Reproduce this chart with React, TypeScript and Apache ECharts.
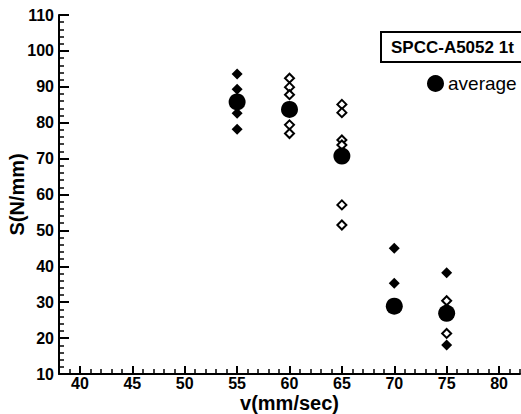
import React, { useEffect, useRef } from "react";
import * as echarts from "echarts";

// Individual measurements (filled diamonds)
const filledSpeed = [55, 55, 55, 55, 70, 70, 75, 75];
const filledS = [93.6, 89.3, 82.6, 78.2, 45.0, 35.3, 38.2, 18.1];

// Individual measurements (open diamonds)
const openSpeed = [60, 60, 60, 60, 60, 65, 65, 65, 65, 65, 65, 75, 75];
const openS = [92.4, 89.9, 87.8, 79.4, 77.0, 85.1, 82.8, 75.2, 73.8, 57.1, 51.5, 30.4, 21.3];

// Averages
const avgSpeed = [55, 60, 65, 70, 75];
const avgS = [85.8, 83.7, 70.7, 28.9, 26.9];

const xMajorTicks = [40, 45, 50, 55, 60, 65, 70, 75, 80];
const xMinorTicks = Array.from({ length: 45 }, (_, i) => 38 + i);

const FONT = "Liberation Sans, Arial, sans-serif";

export default function App() {
  const ref = useRef<HTMLDivElement>(null);
  useEffect(() => {
    if (!ref.current) return;
    const chart = echarts.init(ref.current, null, { renderer: "svg" });
    const pair = (xs: number[], ys: number[]) => xs.map((x, i) => [x, ys[i]]);
    chart.setOption({
      animation: false,
      backgroundColor: "#fff",
      textStyle: { fontFamily: FONT },
      title: {
        text: "SPCC-A5052 1t",
        left: 381,
        top: 32,
        padding: [7, 30, 6, 10],
        borderColor: "#000",
        borderWidth: 2,
        textStyle: { fontFamily: FONT, fontWeight: "bold", fontSize: 17, color: "#000" },
      },
      legend: {
        left: 422,
        top: 69,
        data: [{ name: "average", icon: "circle" }],
        itemWidth: 17,
        itemHeight: 17,
        itemGap: 4,
        itemStyle: { opacity: 1, color: "#000" },
        textStyle: { fontFamily: FONT, fontSize: 19, color: "#000", padding: [0, 0, 0, -1] },
      },
      grid: { left: 59, right: 1, top: 15, bottom: 40, outerBoundsMode: "none", containLabel: false },
      xAxis: [
        {
          type: "value",
          min: 38,
          max: 82,
          name: "v(mm/sec)",
          nameLocation: "middle",
          nameGap: 19,
          nameMoveOverlap: false,
          nameTextStyle: { fontFamily: FONT, fontWeight: "bold", fontSize: 20, lineHeight: 20, color: "#000" },
          axisLine: { onZero: false, lineStyle: { color: "#000", width: 2 } },
          axisTick: { show: true, inside: true, length: 8, customValues: xMajorTicks, lineStyle: { color: "#000", width: 2 } },
          axisLabel: {
            show: true,
            customValues: xMajorTicks,
            margin: 2,
            fontFamily: FONT,
            fontWeight: "bold",
            fontSize: 16,
            lineHeight: 15,
            color: "#000",
          },
          splitLine: { show: false },
        },
        {
          type: "value",
          min: 38,
          max: 82,
          position: "bottom",
          axisLine: { show: false },
          axisTick: { show: true, inside: true, length: 5, customValues: xMinorTicks, lineStyle: { color: "#000", width: 1.5 } },
          axisLabel: { show: false },
          splitLine: { show: false },
        },
      ],
      yAxis: {
        type: "value",
        min: 10,
        max: 110,
        interval: 10,
        name: "S(N/mm)",
        nameLocation: "middle",
        nameGap: 32,
        nameMoveOverlap: false,
        nameTextStyle: { fontFamily: FONT, fontWeight: "bold", fontSize: 20, color: "#000" },
        axisLine: { show: true, onZero: false, lineStyle: { color: "#000", width: 2 } },
        axisTick: { show: true, inside: true, length: 10, lineStyle: { color: "#000", width: 2 } },
        minorTick: { show: true, splitNumber: 5, length: 5, lineStyle: { color: "#000", width: 1.5 } },
        axisLabel: { show: true, margin: 5, fontFamily: FONT, fontWeight: "bold", fontSize: 16, color: "#000" },
        splitLine: { show: false },
      },
      series: [
        {
          name: "filled",
          type: "scatter",
          symbol: "diamond",
          symbolSize: 11,
          itemStyle: { color: "#000", opacity: 1 },
          data: pair(filledSpeed, filledS),
        },
        {
          name: "open",
          type: "scatter",
          symbol: "diamond",
          symbolSize: 9,
          itemStyle: { color: "#fff", borderColor: "#000", borderWidth: 2, opacity: 1 },
          data: pair(openSpeed, openS),
        },
        {
          name: "average",
          type: "scatter",
          symbol: "circle",
          symbolSize: 17,
          itemStyle: { color: "#000", opacity: 1 },
          z: 3,
          data: pair(avgSpeed, avgS),
        },
      ],
    });
    return () => chart.dispose();
  }, []);
  return <div ref={ref} style={{ width: 521, height: 414, position: "absolute", left: 0, top: 0 }} />;
}
